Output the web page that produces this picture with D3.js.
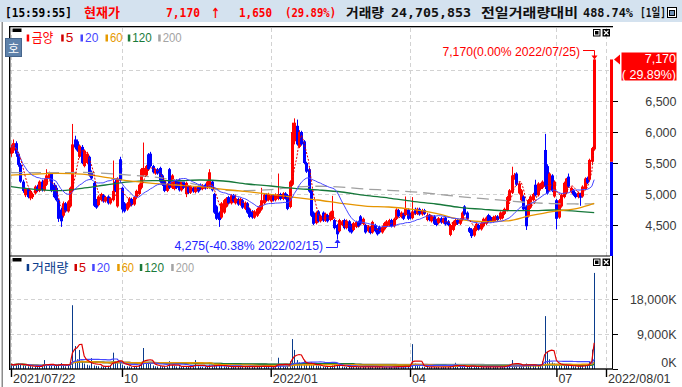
<!DOCTYPE html>
<html>
<head>
<meta charset="utf-8">
<script src="https://cdn.jsdelivr.net/npm/d3@7"></script>
<style>
body { margin: 0; background: #fff; }
svg { display: block; font-family: "Liberation Sans", "Noto Sans CJK KR", sans-serif; }
</style>
</head>
<body>
<svg id="chart" width="682" height="387"></svg>
<script>
// 금양 daily chart 2021/07/22 ~ 2022/07/25

const holidays = ["2021-08-16", "2021-09-20", "2021-09-21", "2021-09-22", "2021-10-04", "2021-10-11",
  "2021-12-31", "2022-01-31", "2022-02-01", "2022-02-02", "2022-03-01", "2022-03-09",
  "2022-05-05", "2022-06-01", "2022-06-06"];

// [open, high, low, close] per trading day
const candles = [
  [5650,5800,5600,5750],[5700,5880,5660,5820],[5820,5850,5600,5650],[5650,5680,5440,5470],[5470,5500,5180,5200],
  [5200,5230,5020,5050],[4980,5100,4950,5080],[5080,5100,4930,4950],[4930,5070,4900,5050],[4950,5020,4920,5000],
  [5010,5140,4990,5120],[5120,5150,5030,5050],[5050,5220,5030,5200],[5200,5230,5040,5060],[5060,5250,5040,5220],
  [5150,5400,5130,5300],[5250,5360,5230,5330],[5330,5350,5030,5050],[5150,5180,4930,4950],[5100,5140,4880,4900],
  [4900,4920,4550,4600],[4750,4780,4470,4560],[4650,4880,4620,4850],[4850,4870,4700,4720],[4720,4900,4700,4880],
  [4800,5120,4780,5100],[5050,6130,5030,5800],[5880,5940,5720,5750],[5850,5880,5680,5700],[5600,5800,5580,5780],
  [5760,5790,5480,5500],[5450,5720,5430,5700],[5500,5680,5480,5650],[5600,5620,5280,5300],[5350,5380,5230,5250],
  [5180,5200,4790,4810],[4900,4920,4760,4780],[4820,4980,4800,4960],[4900,5020,4880,5000],[4980,5000,4860,4880],
  [4880,4970,4860,4950],[4960,4980,4830,4850],[4850,4950,4830,4930],[4900,5540,4880,5050],[5200,5230,5030,5050],
  [4800,5270,4780,5250],[5560,5600,5180,5220],[5100,5120,4700,4750],[4850,4870,4700,4720],[4750,4870,4730,4850],
  [4800,4950,4780,4930],[4920,4940,4800,4820],[4830,4970,4810,4950],[4950,5070,4930,5050],[5000,5170,4980,5150],
  [5100,5420,5080,5400],[5300,5830,5280,5420],[5300,5470,5280,5450],[5640,5660,5380,5400],[5650,5680,5430,5450],
  [5450,5470,5330,5350],[5330,5410,5310,5390],[5400,5420,5310,5330],[5420,5440,5180,5200],[5300,5320,5130,5150],
  [5200,5220,5030,5050],[5050,5170,5030,5150],[5400,5420,5080,5100],[5100,5320,5080,5300],[5080,5240,5060,5220],
  [5220,5240,5080,5100],[5230,5250,5040,5060],[5060,5220,5040,5200],[5200,5220,5080,5100],[5000,5200,4950,5180],
  [5120,5140,5000,5020],[5020,5140,5000,5120],[5100,5120,5020,5040],[5030,5130,5010,5110],[5120,5140,5020,5040],
  [5150,5170,5060,5080],[5080,5160,5060,5140],[5150,5170,5070,5090],[5100,5220,5080,5200],[5100,5400,5080,5350],
  [5200,5220,5040,5060],[5000,5020,4680,4700],[4800,4820,4580,4600],[4700,4720,4470,4580],[4620,4870,4600,4850],
  [4700,4920,4680,4900],[4800,4950,4780,4930],[4950,4970,4830,4850],[4850,5000,4830,4980],[4980,5000,4860,4880],
  [4850,4990,4830,4930],[4920,4940,4810,4830],[4830,4940,4810,4920],[4900,4920,4760,4780],[4760,4880,4740,4860],
  [4850,4870,4680,4700],[4760,4780,4610,4630],[4720,4740,4600,4620],[4620,4740,4600,4720],[4650,4780,4630,4760],
  [4700,4820,4680,4800],[4750,5100,4730,4900],[4850,5010,4830,4990],[4990,5010,4880,4900],[4900,5020,4880,5000],
  [4880,5000,4860,4980],[4980,5000,4880,4900],[4900,5010,4880,4990],[4920,5330,4900,5000],[5000,5020,4900,4920],
  [4920,5030,4900,5010],[5010,5030,4910,4930],[4980,5000,4740,4760],[4790,5220,4770,5200],[5150,6150,5130,6000],
  [5850,6220,5800,6150],[6100,6200,5780,5800],[5760,6030,5740,6000],[6000,6020,5780,5800],[5850,5870,5480,5500],
  [5500,5520,5340,5360],[5400,5420,5020,5040],[5050,5070,4630,4650],[4700,4720,4500,4520],[4530,4720,4510,4700],
  [4720,4740,4540,4560],[4560,4670,4540,4650],[4700,4720,4550,4570],[4570,4700,4550,4680],[4660,4680,4540,4560],
  [4580,4720,4560,4700],[4600,4970,4580,4730],[4580,4600,4430,4450],[4500,4520,4275,4350],[4400,4600,4380,4580],
  [4500,4580,4480,4560],[4580,4600,4430,4450],[4450,4590,4430,4570],[4560,4580,4380,4400],[4500,4520,4360,4380],
  [4420,4550,4400,4530],[4470,4570,4450,4550],[4550,4570,4460,4480],[4640,4660,4500,4520],[4520,4620,4500,4600],
  [4500,4520,4360,4380],[4400,4500,4380,4480],[4460,4480,4350,4370],[4380,4570,4360,4550],[4500,4520,4380,4400],
  [4430,4450,4330,4350],[4470,4490,4360,4380],[4380,4490,4360,4470],[4430,4550,4410,4530],[4480,4580,4460,4560],
  [4500,4600,4480,4580],[4580,4600,4460,4480],[4480,4620,4460,4600],[4600,4770,4580,4750],[4740,4760,4620,4640],
  [4630,4720,4610,4700],[4680,4700,4580,4600],[4660,4960,4640,4770],[4750,4770,4580,4600],[4680,4700,4590,4610],
  [4610,4950,4590,4720],[4760,4780,4660,4680],[4680,4780,4660,4760],[4760,4780,4650,4670],[4670,4760,4650,4740],
  [4740,4760,4660,4680],[4580,4680,4560,4660],[4660,4680,4560,4580],[4560,4660,4540,4640],[4640,4660,4500,4520],
  [4580,4600,4480,4500],[4530,4630,4510,4610],[4610,4630,4520,4540],[4540,4620,4520,4600],[4620,4640,4490,4510],
  [4560,4580,4480,4500],[4340,4520,4320,4500],[4420,4570,4400,4550],[4500,4600,4480,4580],[4580,4600,4500,4520],
  [4520,4610,4500,4590],[4580,4720,4560,4700],[4800,4820,4650,4670],[4700,4720,4580,4600],[4450,4470,4370,4390],
  [4430,4450,4290,4320],[4330,4470,4310,4450],[4420,4540,4400,4520],[4500,4520,4410,4430],[4430,4550,4410,4530],
  [4480,4620,4460,4600],[4520,4640,4500,4620],[4660,4680,4540,4560],[4630,4650,4540,4560],[4560,4650,4540,4630],
  [4580,4660,4560,4640],[4640,4660,4560,4580],[4600,4720,4580,4700],[4610,4720,4590,4700],[4680,4780,4660,4760],
  [4740,4970,4720,4950],[4900,5080,4880,5060],[5020,5440,5000,5300],[5250,5340,5230,5310],[5330,5350,5130,5150],
  [5010,5190,4990,5170],[4900,5080,4880,5060],[4960,4980,4730,4750],[4800,4820,4420,4480],[4640,4920,4620,4900],
  [4780,4980,4760,4960],[4900,5020,4880,5000],[5150,5230,4960,4980],[4980,5190,4960,5170],[5080,5180,5060,5160],
  [5100,5220,5080,5200],[5710,5970,5080,5120],[5450,5480,4990,5010],[5060,5350,5040,5330],[5300,5320,5030,5050],
  [4960,5220,4940,5200],[4900,4920,4430,4600],[4620,4920,4600,4900],[4800,5010,4780,4990],[4950,5200,4930,5180],
  [5020,5260,5000,5250],[5280,5330,5100,5120],[5030,5120,5010,5100],[5060,5080,4970,4990],[5010,5030,4930,4950],
  [4950,5040,4930,5020],[5000,5020,4810,4940],[4960,5140,4940,5120],[5080,5270,5060,5250],[5260,5280,5160,5180],
  [5230,5570,5210,5550],[5520,5760,5500,5740],[5720,7170,5700,7170]
];

// volume in thousands of shares
const volumeK = [
  1200,900,1300,1500,1200,1000,800,700,750,650,
  650,600,700,750,2300,1100,900,1000,800,1000,
  1300,1500,900,700,800,1800,16400,5900,2500,4900,
  2000,1400,1100,900,2800,900,800,700,650,600,
  650,800,1000,4200,1500,1700,2000,1100,800,700,
  650,600,700,800,1000,1700,5400,1800,1600,1400,
  900,700,650,800,700,750,650,2000,1000,800,
  650,700,650,600,700,600,550,600,2300,700,
  600,550,600,650,1100,700,900,1100,1000,800,
  700,650,600,650,550,700,600,550,600,550,
  650,700,600,550,600,650,800,700,600,650,
  600,550,700,2900,900,700,650,800,2000,7700,
  4900,2300,1700,1400,2000,1100,1200,1700,1100,900,
  800,700,650,600,600,650,900,1000,1300,800,
  650,600,550,700,600,550,550,500,600,550,
  550,500,550,600,550,500,500,500,550,500,
  550,500,600,700,600,550,550,900,700,650,
  6400,1400,900,700,600,550,550,500,550,500,
  500,550,500,500,550,500,800,700,1600,700,
  550,600,800,700,700,800,600,550,550,500,
  550,600,550,550,500,500,550,600,700,800,
  1000,1300,2300,1100,1200,900,800,1000,1400,1100,
  900,800,1100,900,800,2000,13600,4400,2500,1700,
  1400,1200,1100,1000,900,1100,900,800,700,700,
  700,800,900,1000,1100,1800,5000,24706
];

// long moving averages, read every 10th trading day (last entry = last day)
const ma60 = [5306,5322,5333,5322,5269,5210,5172,5145,5118,5075,5038,4995,4946,4903,4849,4806,4790,4753,4688,4590,4555,4565,4650,4720,4770,4850];
const ma120 = [5118,5075,5054,5091,5145,5194,5215,5215,5226,5210,5161,5129,5091,5065,5032,4978,4935,4882,4839,4785,4753,4731,4731,4742,4720,4699];
const ma200 = [5344,5344,5344,5349,5333,5306,5275,5220,5140,5060,5055,5070,5110,5125,5110,5080,5060,5035,5000,4957,4925,4892,4860,4845,4839,4840];

const priceTicks = [4500, 5000, 5500, 6000, 6500, 7000];
const volumeTicks = [0, 9000, 18000];
const dateTicks = [["2021-07-22", "2021/07/22"], ["2021-10-01", "10"], ["2022-01-03", "2022/01"],
  ["2022-04-01", "04"], ["2022-07-01", "07"], ["2022-08-01", "2022/08/01"]];
const maPeriods = [5, 20, 60, 120, 200];
const stockName = "금양";
const volumeName = "거래량";
const headerTexts = ["[15:59:55]", "현재가", "7,170", "↑", "1,650", "(29.89%)",
  "거래량", "24,705,853", "전일거래량대비", "488.74%", "[1일]"];
const lastPrice = 7170;
const priceChange = 1650;
const lastPct = "( 29.89%)";
const highNote = "7,170(0.00% 2022/07/25)";
const lowNote = "4,275(-40.38% 2022/02/15)";
const lowDate = "2022-02-15";

// ---------- drawing ----------
const svg = d3.select("#chart");
svg.append("rect").attr("width", 682).attr("height", 387).attr("fill", "#fff");

const fmt = d3.timeFormat("%Y-%m-%d");
const tradingDays = d3.timeDay.range(new Date(2021, 6, 22), new Date(2022, 7, 2))
  .filter(d => d.getDay() % 6 !== 0 && !holidays.includes(fmt(d)))
  .map(fmt);

const x = d3.scaleLinear().domain([0, tradingDays.length - 1]).range([11, 606]);
const yP = d3.scaleLinear().domain([4500, 7000]).range([225, 70]);
const yV = d3.scaleLinear().domain([0, 9000]).range([369, 334]);
const px = i => Math.round(x(i));

const maColors = { 5: "#e00000", 20: "#4646ff", 60: "#e69500", 120: "#16783a", 200: "#a0a0a0" };
const legendColors = { 5: "#d00000", 20: "#4646ff", 60: "#e69a00", 120: "#1a7a3a", 200: "#a4a4a4" };

function txt(g, s, xx, yy, fill, size, len) {
  const t = g.append("text").attr("x", xx).attr("y", yy).attr("fill", fill)
    .attr("font-size", size).text(s);
  if (len) t.attr("textLength", len).attr("lengthAdjust", "spacingAndGlyphs");
  return t;
}
// right-align by measuring, keeps start anchoring
function alignRight(sel, xr) {
  sel.attr("text-anchor", "start").each(function () {
    d3.select(this).attr("x", xr - this.getComputedTextLength());
  });
}

function movingAvg(vals, n) {
  return vals.map((v, i) => d3.mean(vals.slice(Math.max(0, i - n + 1), i + 1)));
}

// header bar
svg.append("rect").attr("width", 682).attr("height", 22).attr("fill", "#d4e2ef");
const gHead = svg.append("g").attr("font-weight", "bold")
  .attr("font-family", "'DejaVu Sans Mono', 'Noto Sans CJK KR', monospace");
const headerLayout = [[5, 67, "#000", 12], [84, 36, "#f00", 13], [166, 34, "#f00", 12], [211, 9, "#f00", 14],
  [239, 33, "#f00", 12], [285, 51, "#f00", 12], [346, 38, "#111", 13], [391, 80, "#111", 12],
  [481, 97, "#111", 13], [583, 50, "#111", 12], [640, 26, "#111", 12]];
headerTexts.forEach((s, k) => {
  const [hx, len, col, size] = headerLayout[k];
  const t = txt(gHead, s, hx, 17, col, size, len);
  if (s === "↑") t.attr("font-family", "'DejaVu Sans', sans-serif").attr("y", 17.5);
});
svg.append("rect").attr("x", 667.5).attr("y", 7.5).attr("width", 9).attr("height", 10)
  .attr("fill", "#fff").attr("stroke", "#000");
svg.append("rect").attr("x", 669.5).attr("y", 10.5).attr("width", 5).attr("height", 5)
  .attr("fill", "#6d8fb5").attr("stroke", "#000");

// page left border
svg.append("rect").attr("x", 1.5).attr("y", 22).attr("width", 1.5).attr("height", 365).attr("fill", "#8c8c8c");

// grid
const grid = svg.append("g").attr("stroke", "#d2d2d2").attr("stroke-dasharray", "4,3").attr("stroke-width", 1);
priceTicks.forEach(t => {
  const yy = Math.round(yP(t)) + 0.5;
  grid.append("line").attr("x1", 10).attr("x2", 610).attr("y1", yy).attr("y2", yy);
});
volumeTicks.filter(t => t > 0).forEach(t => {
  const yy = Math.round(yV(t)) + 0.5;
  grid.append("line").attr("x1", 10).attr("x2", 612).attr("y1", yy).attr("y2", yy);
});
const tickIdx = dateTicks.map(d => tradingDays.indexOf(d[0]));
tickIdx.forEach(i => {
  grid.append("line").attr("x1", px(i) + 0.5).attr("x2", px(i) + 0.5).attr("y1", 28).attr("y2", 368);
});

// clips
const defs = svg.append("defs");
defs.append("clipPath").attr("id", "clipP").append("rect")
  .attr("x", 10).attr("y", 27).attr("width", 600).attr("height", 229);
defs.append("clipPath").attr("id", "clipV").append("rect")
  .attr("x", 10).attr("y", 257).attr("width", 602).attr("height", 112);

// candles
const gC = svg.append("g").attr("clip-path", "url(#clipP)");
const candleColor = d => d[3] >= d[0] ? "#ff0000" : "#0000ff";
gC.selectAll(".wick").data(candles).join("rect")
  .attr("x", (d, i) => px(i)).attr("width", 1)
  .attr("y", d => yP(d[1])).attr("height", d => yP(d[2]) - yP(d[1]))
  .attr("fill", candleColor);
gC.selectAll(".body").data(candles).join("rect")
  .attr("x", (d, i) => px(i) - 1).attr("width", 3)
  .attr("y", d => yP(Math.max(d[0], d[3])))
  .attr("height", d => Math.max(1, yP(Math.min(d[0], d[3])) - yP(Math.max(d[0], d[3]))))
  .attr("fill", candleColor);

// price moving averages
const closes = candles.map(d => d[3]);
const lineP = d3.line().x(d => x(d[0])).y(d => yP(d[1]));
const sampled = arr => arr.map((v, k) => [Math.min(k * 10, candles.length - 1), v]);
const gMA = svg.append("g").attr("clip-path", "url(#clipP)").attr("fill", "none");
gMA.append("path").attr("d", lineP.curve(d3.curveMonotoneX)(sampled(ma200)))
  .attr("stroke", maColors[200]).attr("stroke-width", 1.3).attr("stroke-dasharray", "12,6");
gMA.append("path").attr("d", lineP.curve(d3.curveMonotoneX)(sampled(ma120)))
  .attr("stroke", maColors[120]).attr("stroke-width", 1.3);
gMA.append("path").attr("d", lineP.curve(d3.curveMonotoneX)(sampled(ma60)))
  .attr("stroke", maColors[60]).attr("stroke-width", 1.3);
gMA.append("path").attr("d", lineP.curve(d3.curveLinear)(movingAvg(closes, 20).map((v, i) => [i, v])))
  .attr("stroke", maColors[20]).attr("stroke-width", 1);
gMA.append("path").attr("d", lineP.curve(d3.curveLinear)(movingAvg(closes, 5).map((v, i) => [i, v])))
  .attr("stroke", maColors[5]).attr("stroke-width", 1).attr("stroke-dasharray", "2,1.5");

// volume bars + averages
const gV = svg.append("g").attr("clip-path", "url(#clipV)");
gV.selectAll("rect").data(volumeK).join("rect")
  .attr("x", (d, i) => px(i)).attr("width", 1)
  .attr("y", d => yV(d)).attr("height", d => yV(0) - yV(d))
  .attr("fill", "#0a3c8c");
const lineV = d3.line().x((d, i) => x(i)).y(d => yV(d));
[200, 120, 60, 20, 5].forEach(n => {
  gV.append("path").attr("d", lineV(movingAvg(volumeK, n)))
    .attr("fill", "none").attr("stroke", maColors[n])
    .attr("stroke-width", n >= 60 ? 1.6 : 1.2);
});

// today's range bar at the right edge of the price panel
const prevClose = lastPrice - priceChange;
svg.append("rect").attr("x", 610).attr("width", 3)
  .attr("y", yP(prevClose)).attr("height", 256 - yP(prevClose)).attr("fill", "#0000ff");
svg.append("rect").attr("x", 610).attr("width", 3)
  .attr("y", yP(lastPrice)).attr("height", yP(prevClose) - yP(lastPrice)).attr("fill", "#ff0000");

// panel frames
const frame = svg.append("g").attr("fill", "#000");
frame.append("rect").attr("x", 9).attr("y", 26).attr("width", 604).attr("height", 1.3);
frame.append("rect").attr("x", 9).attr("y", 26).attr("width", 1.4).attr("height", 344);
frame.append("rect").attr("x", 612).attr("y", 256).attr("width", 1).attr("height", 113);
frame.append("rect").attr("x", 9).attr("y", 255.5).attr("width", 601).attr("height", 1);
frame.append("rect").attr("x", 9).attr("y", 368.3).attr("width", 604).attr("height", 1.4);

// value axes
const pAxis = svg.append("g").attr("transform", "translate(613,0)")
  .call(d3.axisRight(yP).tickValues(priceTicks.filter(t => yP(t) > 85)).tickSize(5).tickFormat(d3.format(",")));
const vAxis = svg.append("g").attr("transform", "translate(613,0)")
  .call(d3.axisRight(yV).tickValues(volumeTicks).tickSize(5).tickFormat(d => d3.format(",")(d) + "K"));
[pAxis, vAxis].forEach(a => {
  a.select(".domain").remove();
  a.attr("font-family", null).attr("font-size", 12.5);
  a.selectAll("line").attr("stroke", "#000");
  a.selectAll("text").attr("fill", "#3a3a3a");
  alignRight(a.selectAll("text"), 63.5);
});
vAxis.selectAll("text").filter(d => d === 0).attr("dy", "-0.2em");

// date axis
const xAxis = svg.append("g").attr("transform", "translate(0,369)")
  .call(d3.axisBottom(x).tickValues(tickIdx).tickSize(8).tickFormat((d, k) => dateTicks[k][1]));
xAxis.select(".domain").remove();
xAxis.attr("font-family", null).attr("font-size", 12.5);
xAxis.selectAll("line").attr("stroke", "#000").attr("stroke-width", 1.4);
xAxis.selectAll("text").attr("text-anchor", "start").attr("x", 1.5).attr("y", 13.7).attr("dy", null)
  .attr("fill", "#333");

// last price tag
svg.append("polygon").attr("points", "614,59.5 620,54.5 620,64.5").attr("fill", "#ff0000");
svg.append("rect").attr("x", 621.5).attr("y", 52.5).attr("width", 55).attr("height", 28).attr("fill", "#ff0000");
alignRight(txt(svg, d3.format(",")(lastPrice), 0, 63, "#fff", 12.5), 676);
alignRight(txt(svg, lastPct, 0, 78.5, "#fff", 12.5), 676);

// high / low annotations
const hx = px(candles.length - 1) + 0.5;
const hy = yP(lastPrice);
alignRight(txt(svg, highNote, 0, 55.5, "#ff0000", 12.2), 580);
svg.append("path").attr("d", `M583,50.5H${hx}V${hy - 3}`).attr("fill", "none").attr("stroke", "#ff0000");
svg.append("polygon").attr("points", `${hx - 3},${hy - 4} ${hx + 3},${hy - 4} ${hx},${hy}`).attr("fill", "#ff0000");

const li = tradingDays.indexOf(lowDate);
const lx = px(li) + 0.5;
const ly = yP(d3.min(candles, d => d[2]));
alignRight(txt(svg, lowNote, 0, 250, "#2424ff", 12.2), 323);
svg.append("path").attr("d", `M326,247.5H${lx}V${ly + 3}`).attr("fill", "none").attr("stroke", "#2424ff");
svg.append("polygon").attr("points", `${lx - 3},${ly + 4} ${lx + 3},${ly + 4} ${lx},${ly}`).attr("fill", "#2424ff");

// legends
function legend(yBase, name, nameColor, nameX, nameLen, items) {
  svg.append("rect").attr("x", 12.5).attr("y", yBase - 13.5).attr("width", 9).attr("height", 3.5).attr("fill", "#000");
  svg.append("rect").attr("x", nameX - 5).attr("y", yBase - 7.5).attr("width", 2.5).attr("height", 7).attr("fill", nameColor);
  txt(svg, name, nameX, yBase, nameColor, 13, nameLen);
  items.forEach(([tx, len], k) => {
    const n = maPeriods[k];
    svg.append("rect").attr("x", tx - 4.5).attr("y", yBase - 7.5).attr("width", 2.5).attr("height", 7).attr("fill", legendColors[n]);
    txt(svg, String(n), tx, yBase, legendColors[n], 13.5, len);
  });
}
legend(42, stockName, "#ff0000", 31.7, 21.6, [[65.7, 7.6], [85, 13.3], [110, 12.7], [132.3, 19.4], [162.7, 19]]);
legend(271.5, volumeName, "#0a3c8c", 31.7, 36.7, [[79, 7], [96.7, 13.3], [121.7, 12.3], [144.3, 19.7], [175.7, 18.3]]);

// 호 badge
svg.append("rect").attr("x", 5.5).attr("y", 38.5).attr("width", 16).attr("height", 18)
  .attr("fill", "#5f82aa").attr("stroke", "#46658c");
txt(svg, "호", 13.5, 52.5, "#fff", 12).attr("text-anchor", "middle");

// panel buttons
function buttons(yy) {
  svg.append("rect").attr("x", 593.5).attr("y", yy + 0.5).attr("width", 6.5).attr("height", 6.5)
    .attr("fill", "#fff").attr("stroke", "#000");
  svg.append("rect").attr("x", 595).attr("y", yy + 2).attr("width", 3.5).attr("height", 3.5).attr("fill", "#000");
  svg.append("rect").attr("x", 602.5).attr("y", yy).attr("width", 7.5).attr("height", 7.5).attr("fill", "#000");
  svg.append("path").attr("d", `M604,${yy + 1.5}l4.5,4.5M608.5,${yy + 1.5}l-4.5,4.5`)
    .attr("stroke", "#fff").attr("stroke-width", 1.2);
}
buttons(29);
buttons(258.5);
</script>
</body>
</html>
